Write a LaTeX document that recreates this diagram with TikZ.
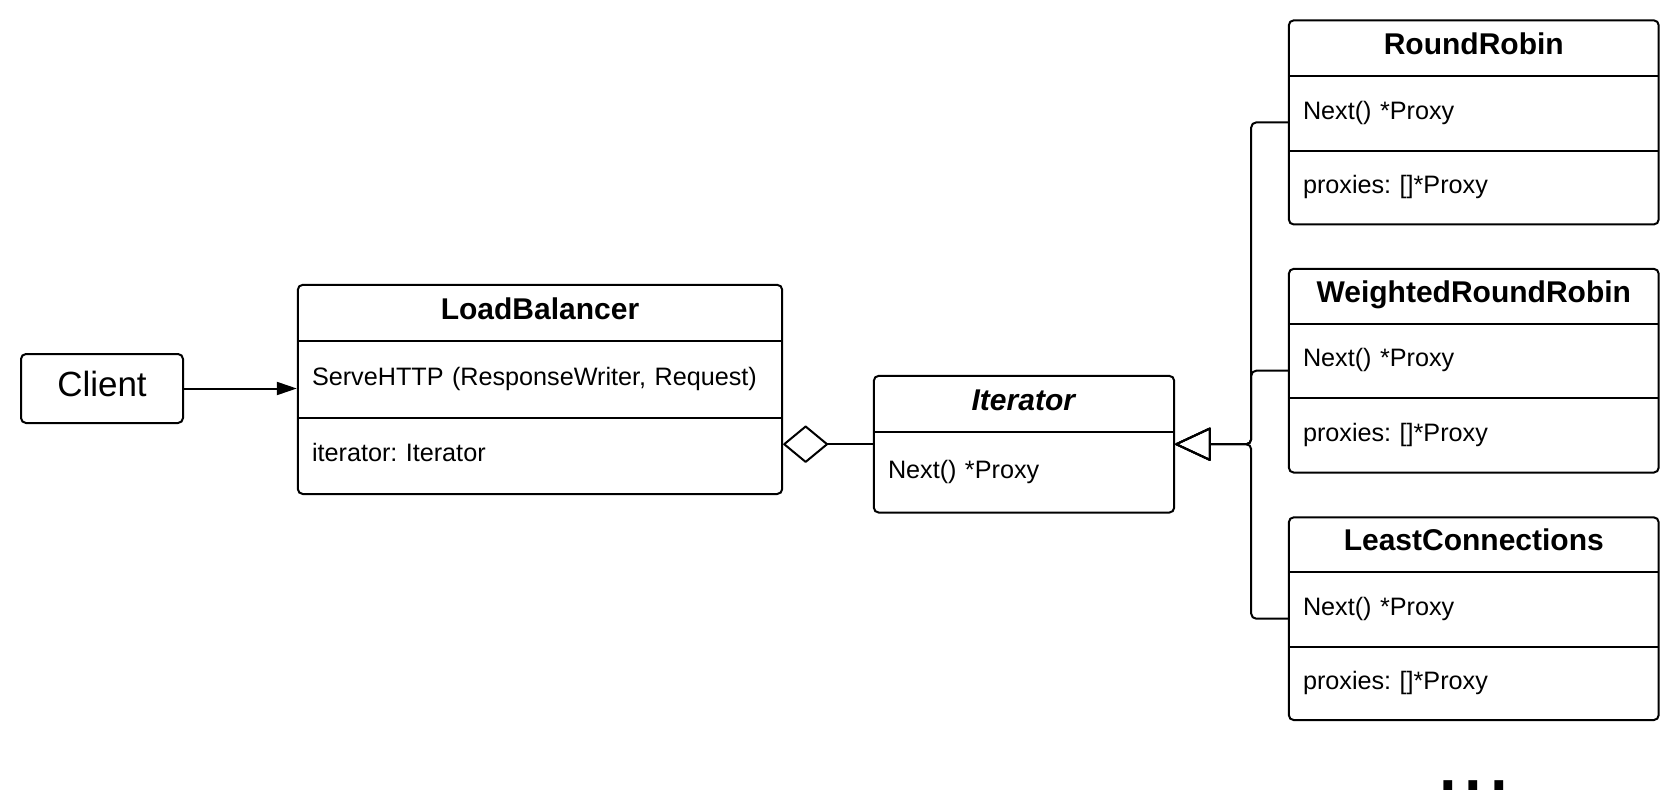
\documentclass[tikz,border=0pt]{standalone}
\usepackage{fontspec}
\setmainfont{Liberation Sans}
\usetikzlibrary{positioning,fit,arrows.meta}
\frenchspacing

\begin{document}
\begin{tikzpicture}[
    x=1pt, y=-1pt,
    classbox/.style={draw=black, line width=2pt, rounded corners=5pt, inner sep=0pt},
    titlepart/.style={text width=#1, align=center, inner sep=0pt, font=\bfseries\fontsize{30}{36}\selectfont, text height=22pt, text depth=10pt},
    memberpart/.style={text width=#1, align=left, inner xsep=14pt, inner ysep=0pt, font=\fontsize{25.2}{30}\selectfont, text height=19pt, text depth=7.5pt},
    divider/.style={line width=2pt},
    arrow/.style={->, >={Triangle[length=20pt, width=13pt]}, line width=2pt},
    aggregation/.style={-{Diamond[open, length=46pt, width=38pt, round]}, line width=2pt},
    inherit/.style={-{Triangle[open, length=37pt, width=34pt, round]}, line width=2pt, rounded corners=5pt},
    dots/.style={anchor=base, inner sep=0pt, font=\fontsize{92}{92}\selectfont}
]

% Canvas
\fill[white] (0,0) rectangle (1680,810);

% Client
\node[classbox, minimum width=162pt, minimum height=69pt, text height=25.5pt, text depth=9pt, font=\fontsize{35}{42}\selectfont] (client) at (102,388.5) {Client};

% LoadBalancer class
\node[titlepart=484pt, minimum height=56pt] (lbtitle) at (540,313) {LoadBalancer};
\node[memberpart=456pt, minimum height=76pt, below=0pt of lbtitle] (lbops) {ServeHTTP (ResponseWriter, Request)};
\node[memberpart=456pt, minimum height=76pt, below=0pt of lbops] (lbattr) {iterator: Iterator};
\node[classbox, fit=(lbtitle)(lbattr)] (lb) {};
\draw[divider] (lbtitle.south west) -- (lbtitle.south east);
\draw[divider] (lbops.south west) -- (lbops.south east);

% Iterator interface
\node[titlepart=300pt, minimum height=56pt] (ittitle) at (1024,404) {\textit{Iterator}};
\node[memberpart=272pt, minimum height=80pt, below=0pt of ittitle] (itops) {Next() *Proxy};
\node[classbox, fit=(ittitle)(itops)] (it) {};
\draw[divider] (ittitle.south west) -- (ittitle.south east);

% Iterator implementations
\node[titlepart=369.5pt, minimum height=55.5pt] (rrtitle) at (1473.75,48.25) {RoundRobin};
\node[memberpart=341.5pt, minimum height=74pt, below=0pt of rrtitle] (rrops) {Next() *Proxy};
\node[memberpart=341.5pt, minimum height=73.5pt, below=0pt of rrops] (rrattr) {proxies: []*Proxy};
\node[classbox, fit=(rrtitle)(rrattr)] (rr) {};
\draw[divider] (rrtitle.south west) -- (rrtitle.south east);
\draw[divider] (rrops.south west) -- (rrops.south east);

\node[titlepart=369.5pt, minimum height=54.6pt] (wrrtitle) at (1473.75,296.3) {WeightedRoundRobin};
\node[memberpart=341.5pt, minimum height=74pt, below=0pt of wrrtitle] (wrrops) {Next() *Proxy};
\node[memberpart=341.5pt, minimum height=74pt, below=0pt of wrrops] (wrrattr) {proxies: []*Proxy};
\node[classbox, fit=(wrrtitle)(wrrattr)] (wrr) {};
\draw[divider] (wrrtitle.south west) -- (wrrtitle.south east);
\draw[divider] (wrrops.south west) -- (wrrops.south east);

\node[titlepart=369.5pt, minimum height=54.6pt] (lctitle) at (1473.75,544.8) {LeastConnections};
\node[memberpart=341.5pt, minimum height=74pt, below=0pt of lctitle] (lcops) {Next() *Proxy};
\node[memberpart=341.5pt, minimum height=73pt, below=0pt of lcops] (lcattr) {proxies: []*Proxy};
\node[classbox, fit=(lctitle)(lcattr)] (lc) {};
\draw[divider] (lctitle.south west) -- (lctitle.south east);
\draw[divider] (lcops.south west) -- (lcops.south east);

\node[dots] (more) at (1473.5,790) {...};

% Relationships
\draw[arrow] (client.east) -- (client.east -| lb.west);
\draw[aggregation] (it.west) -- (it.west -| lb.east);
\coordinate (junction) at ([xshift=76pt]it.east);
\draw[inherit] (rr.west) -| (junction) -- (it.east);
\draw[inherit] (wrr.west) -| (junction) -- (it.east);
\draw[inherit] (lc.west) -| (junction) -- (it.east);

\end{tikzpicture}
\end{document}
